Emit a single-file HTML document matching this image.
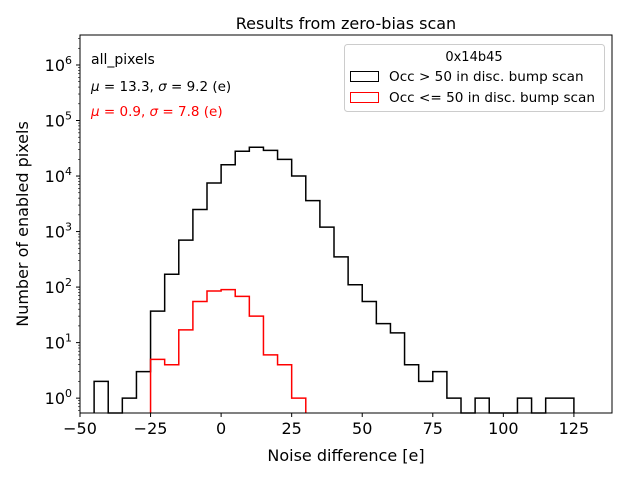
<!DOCTYPE html>
<html><head><meta charset="utf-8"><style>
body{margin:0;background:#fff}
svg{display:block;font-family:"DejaVu Sans","Liberation Sans",sans-serif}
</style></head><body>
<svg id="c" width="640" height="480" viewBox="0 0 640 480">
<rect width="640" height="480" fill="#fff"/>
<text x="346" y="29" font-size="16" text-anchor="middle">Results from zero-bias scan</text>
<g id="marks"></g>
<rect x="80" y="35" width="532" height="378" fill="none" stroke="#000" stroke-width="1"/>
<g id="axes"></g>
<text x="346" y="461" font-size="16" text-anchor="middle">Noise difference [e]</text>
<text transform="translate(28,224) rotate(-90)" font-size="16" text-anchor="middle">Number of enabled pixels</text>
<text x="91" y="64" font-size="14">all_pixels</text>
<text x="91" y="91" font-size="13.5"><tspan font-style="italic">μ</tspan> = 13.3, <tspan font-style="italic">σ</tspan> = 9.2 (e)</text>
<text x="91" y="116" font-size="13.5" fill="#f00"><tspan font-style="italic">μ</tspan> = 0.9, <tspan font-style="italic">σ</tspan> = 7.8 (e)</text>
<g>
<rect x="344.5" y="44.5" width="260" height="67" rx="3" fill="#fff" fill-opacity="0.8" stroke="#ccc"/>
<text x="474" y="61" font-size="13" text-anchor="middle">0x14b45</text>
<rect x="350.5" y="71.5" width="28" height="10" fill="none" stroke="#000"/>
<text x="389" y="81" font-size="13.6">Occ &gt; 50 in disc. bump scan</text>
<rect x="350.5" y="92.5" width="28" height="10" fill="none" stroke="#f00"/>
<text x="389" y="102" font-size="13.6">Occ &lt;= 50 in disc. bump scan</text>
</g>
</svg>
<script>
const binStart = -45, binWidth = 5;
const blackCounts = [2,0,1,3,37,170,700,2500,7500,16000,28000,33000,29000,20000,10000,3600,1200,350,110,55,22,15,4,2,3,1,0,1,0,0,1,0,1,1];
const redStart = -25;
const redCounts = [5,4,17,55,85,90,68,30,6,4,1];
const xTicks = [-50,-25,0,25,50,75,100,125];
const yTickExps = [0,1,2,3,4,5,6];
const X0=80,X1=612,Y0=413,Y1=35, xmin=-50, xmax=138.5, lmin=Math.log10(0.54), lmax=6.54;
const xs=v=>X0+(v-xmin)/(xmax-xmin)*(X1-X0);
const ys=v=>v<=0?Y0:Y0-(Math.log10(v)-lmin)/(lmax-lmin)*(Y0-Y1);
const NS='http://www.w3.org/2000/svg';
function mk(t,a,p){const e=document.createElementNS(NS,t);for(const k in a)e.setAttribute(k,a[k]);p.appendChild(e);return e;}
const marks=document.getElementById('marks'), axes=document.getElementById('axes');
function stepPath(start,counts){
  let d=`M${xs(start)},${Y0}`;
  counts.forEach((c,i)=>{const y=ys(c);d+=`L${xs(start+i*binWidth)},${y}L${xs(start+(i+1)*binWidth)},${y}`;});
  d+=`L${xs(start+counts.length*binWidth)},${Y0}`;return d;
}
let p=mk('path',{d:stepPath(binStart,blackCounts),fill:'none',stroke:'#000','stroke-width':1.5},marks);


p=mk('path',{d:stepPath(redStart,redCounts),fill:'none',stroke:'#f00','stroke-width':1.5},marks);


xTicks.forEach(v=>{const x=xs(v);
  const l=mk('line',{x1:x,x2:x,y1:Y0,y2:Y0+4,stroke:'#000'},axes);
  
  
  const t=mk('text',{x:x,y:Y0+21,'font-size':16,'text-anchor':'middle'},axes);
  
  
  t.textContent=v<0?'−'+(-v):v;});
yTickExps.forEach(e=>{const y=ys(Math.pow(10,e));
  const l=mk('line',{x1:X0-4,x2:X0,y1:y,y2:y,stroke:'#000'},axes);
  
  
  const t=mk('text',{x:X0-8,y:y+6,'font-size':16,'text-anchor':'end'},axes);
  
  
  t.innerHTML='10<tspan dy="-7" font-size="11">'+e+'</tspan>';
  for(let m=2;m<10;m++){const v=m*Math.pow(10,e);const yy=ys(v);if(yy<Y1)continue;
    const ml=mk('line',{x1:X0-2,x2:X0,y1:yy,y2:yy,stroke:'#000','stroke-width':0.6},axes);
    
    }
});
[0.6,0.7,0.8,0.9].forEach(v=>{const yy=ys(v);if(yy>Y0)return;
  const ml=mk('line',{x1:X0-2,x2:X0,y1:yy,y2:yy,stroke:'#000','stroke-width':0.6},axes);
  
  });
</script>
</body></html>
